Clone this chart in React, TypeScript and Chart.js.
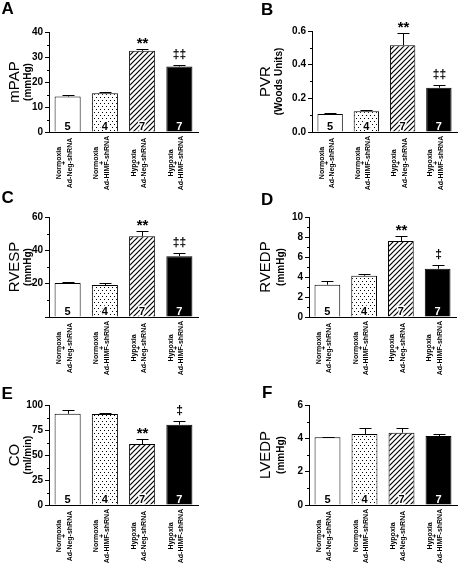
import React, { useEffect, useRef } from "react";
import { Chart, registerables } from "chart.js";

Chart.register(...registerables);

const FONT = '"Liberation Sans", Arial, Helvetica, sans-serif';

// ---- Data ----
const groupLabels = [
  ["Normoxia", "+", "Ad-Neg-shRNA"],
  ["Normoxia", "+", "Ad-HIMF-shRNA"],
  ["Hypoxia", "+", "Ad-Neg-shRNA"],
  ["Hypoxia", "+", "Ad-HIMF-shRNA"],
];
const sampleSizes = ["5", "4", "7", "7"];

const mpapMean = [14.2, 15.5, 32.5, 26.2];
const mpapErr = [0.6, 0.5, 0.6, 0.6];
const mpapSig = ["", "", "**", "‡‡"];

const pvrMean = [0.107, 0.123, 0.515, 0.263];
const pvrErr = [0.005, 0.007, 0.075, 0.016];
const pvrSig = ["", "", "**", "‡‡"];

const rvespMean = [20.4, 19.2, 48.4, 36.5];
const rvespErr = [0.9, 1.2, 3.4, 2.0];
const rvespSig = ["", "", "**", "‡‡"];

const rvedpMean = [3.23, 4.13, 7.6, 4.83];
const rvedpErr = [0.33, 0.15, 0.5, 0.37];
const rvedpSig = ["", "", "**", "‡"];

const coMean = [91.3, 91.0, 61.0, 80.3];
const coErr = [3.4, 1.4, 5.5, 4.2];
const coSig = ["", "", "**", "‡"];

const lvedpMean = [4.06, 4.26, 4.34, 4.14];
const lvedpErr = [0.04, 0.38, 0.26, 0.14];
const lvedpSig = ["", "", "", ""];

type Spec = {
  letter: string;
  title: string;
  unit: string;
  means: number[];
  errs: number[];
  sigs: string[];
  max: number;
  major: number;
  minor: number;
  decimals: number;
  hideZero: boolean;
  ox: number; oy: number; w: number; h: number;
  L: number; R: number; T: number; B: number;
  letterX: number; letterY: number;
  titleX: number; unitX: number;
};

const panels: Spec[] = [
  { letter: "A", title: "mPAP", unit: "(mmHg)", means: mpapMean, errs: mpapErr, sigs: mpapSig,
    max: 40, major: 10, minor: 5, decimals: 0, hideZero: false,
    ox: 0, oy: 0, w: 230, h: 190, L: 49, R: 198, T: 32, B: 132,
    letterX: 1.5, letterY: 14, titleX: 15, unitX: 28 },
  { letter: "B", title: "PVR", unit: "(Woods Units)", means: pvrMean, errs: pvrErr, sigs: pvrSig,
    max: 0.6, major: 0.2, minor: 0.1, decimals: 1, hideZero: false,
    ox: 230, oy: 0, w: 230, h: 190, L: 312, R: 457, T: 31, B: 132,
    letterX: 261, letterY: 14.5, titleX: 266, unitX: 279 },
  { letter: "C", title: "RVESP", unit: "(mmHg)", means: rvespMean, errs: rvespErr, sigs: rvespSig,
    max: 60, major: 20, minor: 10, decimals: 0, hideZero: true,
    ox: 0, oy: 190, w: 230, h: 185, L: 49, R: 198, T: 217, B: 317,
    letterX: 1.5, letterY: 203, titleX: 15, unitX: 28 },
  { letter: "D", title: "RVEDP", unit: "(mmHg)", means: rvedpMean, errs: rvedpErr, sigs: rvedpSig,
    max: 10, major: 2, minor: 1, decimals: 0, hideZero: false,
    ox: 230, oy: 190, w: 230, h: 185, L: 309, R: 456, T: 217, B: 317,
    letterX: 261, letterY: 205, titleX: 266, unitX: 281 },
  { letter: "E", title: "CO", unit: "(ml/min)", means: coMean, errs: coErr, sigs: coSig,
    max: 100, major: 25, minor: 12.5, decimals: 0, hideZero: false,
    ox: 0, oy: 375, w: 230, h: 188, L: 49, R: 198, T: 405, B: 505,
    letterX: 1.5, letterY: 399, titleX: 15, unitX: 28 },
  { letter: "F", title: "LVEDP", unit: "(mmHg)", means: lvedpMean, errs: lvedpErr, sigs: lvedpSig,
    max: 6, major: 2, minor: 1, decimals: 0, hideZero: false,
    ox: 230, oy: 375, w: 230, h: 188, L: 309, R: 457, T: 405, B: 505,
    letterX: 262, letterY: 398, titleX: 266, unitX: 281 },
];

function makeDotPattern(ctx: CanvasRenderingContext2D) {
  const c = document.createElement("canvas");
  c.width = 4; c.height = 6;
  const g = c.getContext("2d")!;
  g.fillStyle = "#fff"; g.fillRect(0, 0, 4, 6);
  g.fillStyle = "#000";
  g.fillRect(0, 1, 1, 1);
  g.fillRect(2, 4, 1, 1);
  return ctx.createPattern(c, "repeat")!;
}

function makeHatchPattern(ctx: CanvasRenderingContext2D) {
  const s = 5;
  const c = document.createElement("canvas");
  c.width = s; c.height = s;
  const g = c.getContext("2d")!;
  g.fillStyle = "#fff"; g.fillRect(0, 0, s, s);
  g.strokeStyle = "#000"; g.lineWidth = 1.2;
  g.beginPath();
  g.moveTo(-1, s + 1); g.lineTo(s + 1, -1);
  g.moveTo(-1, 1); g.lineTo(1, -1);
  g.moveTo(s - 1, s + 1); g.lineTo(s + 1, s - 1);
  g.stroke();
  return ctx.createPattern(c, "repeat")!;
}

function Panel({ spec }: { spec: Spec }) {
  const ref = useRef<HTMLCanvasElement>(null);
  useEffect(() => {
    const canvas = ref.current!;
    const ctx0 = canvas.getContext("2d")!;
    const colors = ["#ffffff", makeDotPattern(ctx0), makeHatchPattern(ctx0), "#000000"];
    const Lc = spec.L - spec.ox, Rc = spec.R - spec.ox, Tc = spec.T - spec.oy, Bc = spec.B - spec.oy;

    const annot = {
      id: "annot",
      afterDatasetsDraw(chart: any) {
        const ctx = chart.ctx as CanvasRenderingContext2D;
        const ys = chart.scales.y;
        const meta = chart.getDatasetMeta(0);
        ctx.save();
        meta.data.forEach((el: any, i: number) => {
          const x = Math.round(el.x) + 0.5;
          const ye = Math.round(ys.getPixelForValue(spec.means[i] + spec.errs[i])) + 0.5;
          ctx.strokeStyle = "#000";
          ctx.lineWidth = 1;
          ctx.beginPath();
          ctx.moveTo(x, el.y);
          ctx.lineTo(x, ye);
          ctx.moveTo(x - 6, ye);
          ctx.lineTo(x + 6, ye);
          ctx.stroke();

          const s = spec.sigs[i];
          if (s) {
            ctx.font = s.includes("*") ? `bold 15px ${FONT}` : `bold 12px ${FONT}`;
            ctx.textAlign = "center";
            ctx.textBaseline = "alphabetic";
            ctx.fillStyle = "#000";
            const m = ctx.measureText(s);
            ctx.fillText(s, x, ye - 6 - m.actualBoundingBoxDescent);
          }

          ctx.font = `bold 11px ${FONT}`;
          ctx.textAlign = "center";
          ctx.textBaseline = "alphabetic";
          const ny = Bc - 2;
          if (i === 3) {
            ctx.fillStyle = "#fff";
            ctx.fillText(sampleSizes[i], el.x, ny);
          } else {
            if (i > 0) {
              ctx.strokeStyle = "#fff";
              ctx.lineWidth = 3;
              ctx.lineJoin = "round";
              ctx.strokeText(sampleSizes[i], el.x, ny);
            }
            ctx.fillStyle = "#000";
            ctx.fillText(sampleSizes[i], el.x, ny);
          }
        });
        ctx.restore();
      },
      afterDraw(chart: any) {
        const ctx = chart.ctx as CanvasRenderingContext2D;
        const ys = chart.scales.y;
        const xs = chart.scales.x;
        ctx.save();
        // minor ticks
        ctx.strokeStyle = "#000";
        ctx.lineWidth = 1;
        const ratio = Math.round(spec.major / spec.minor);
        for (let k = 1; k * spec.minor < spec.max + 1e-9; k++) {
          if (k % ratio === 0) continue;
          const y = Math.round(ys.getPixelForValue(k * spec.minor)) + 0.5;
          ctx.beginPath();
          ctx.moveTo(Lc - 2, y);
          ctx.lineTo(Lc, y);
          ctx.stroke();
        }
        // x group labels
        ctx.fillStyle = "#000";
        ctx.font = `bold 7px ${FONT}`;
        ctx.textAlign = "center";
        ctx.textBaseline = "middle";
        const offs = [-8.5, -3.3, 2];
        groupLabels.forEach((lines, i) => {
          const cx = xs.getPixelForValue(i);
          lines.forEach((ln, j) => {
            ctx.save();
            ctx.translate(cx + offs[j], Bc + 31);
            ctx.rotate(-Math.PI / 2);
            ctx.fillText(ln, 0, 0);
            ctx.restore();
          });
        });
        // y titles
        const midY = (Tc + Bc) / 2;
        ctx.save();
        ctx.translate(spec.titleX - spec.ox, midY);
        ctx.rotate(-Math.PI / 2);
        ctx.font = `15px ${FONT}`;
        ctx.fillText(spec.title, 0, 0);
        ctx.restore();
        ctx.save();
        ctx.translate(spec.unitX - spec.ox, midY);
        ctx.rotate(-Math.PI / 2);
        ctx.font = `bold 10px ${FONT}`;
        ctx.fillText(spec.unit, 0, 0);
        ctx.restore();
        // panel letter
        ctx.font = `bold 17px ${FONT}`;
        ctx.textAlign = "left";
        ctx.textBaseline = "alphabetic";
        ctx.fillText(spec.letter, spec.letterX - spec.ox, spec.letterY - spec.oy);
        ctx.restore();
      },
    };

    const chart = new Chart(canvas, {
      type: "bar",
      data: {
        labels: groupLabels.map((g) => g.join(" ")),
        datasets: [
          {
            data: spec.means,
            backgroundColor: colors as any,
            borderColor: "#000",
            borderWidth: 1,
            barPercentage: 0.7,
            categoryPercentage: 1,
          },
        ],
      },
      options: {
        animation: false,
        responsive: false,
        maintainAspectRatio: false,
        events: [],
        layout: { padding: { left: 0, right: spec.w - Rc, top: Tc, bottom: 0 } },
        plugins: { legend: { display: false }, tooltip: { enabled: false } },
        scales: {
          x: {
            type: "category",
            offset: true,
            grid: { display: false },
            border: { display: true, color: "#000", width: 1 },
            ticks: { display: false },
            afterFit: (s: any) => { s.height = spec.h - Bc; },
          },
          y: {
            min: 0,
            max: spec.max,
            afterFit: (s: any) => { s.width = Lc; },
            ticks: {
              stepSize: spec.major,
              color: "#000",
              padding: 2,
              font: { family: FONT, size: 10, weight: "bold" },
              callback: (v: any) => {
                const n = Number(v);
                if (spec.hideZero && Math.abs(n) < 1e-9) return "";
                return n.toFixed(spec.decimals);
              },
            },
            grid: { drawOnChartArea: false, drawTicks: true, tickLength: 4, color: "#000", lineWidth: 1 },
            border: { display: true, color: "#000", width: 1 },
          },
        },
      } as any,
      plugins: [annot],
    });
    return () => chart.destroy();
  }, [spec]);
  return (
    <canvas
      ref={ref}
      width={spec.w}
      height={spec.h}
      style={{ position: "absolute", left: spec.ox, top: spec.oy, width: spec.w, height: spec.h }}
    />
  );
}

export default function App() {
  return (
    <div style={{ position: "absolute", left: 0, top: 0, width: 460, height: 563, background: "#fff", overflow: "hidden" }}>
      {panels.map((p) => (
        <Panel key={p.letter} spec={p} />
      ))}
    </div>
  );
}
